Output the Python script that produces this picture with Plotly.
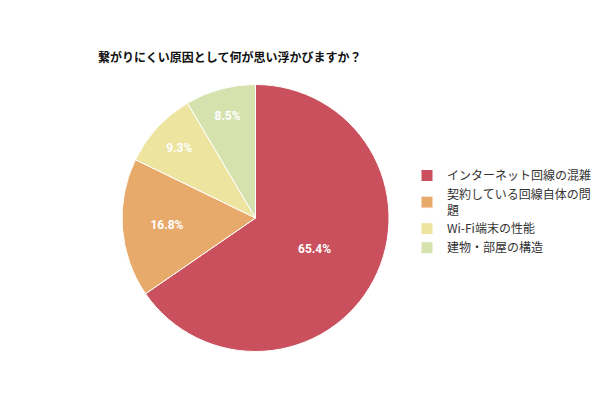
import plotly.graph_objects as go

labels = ["インターネット回線の混雑", "契約している回線自体の問<br>題", "Wi-Fi端末の性能", "建物・部屋の構造"]
values = [65.4, 16.8, 9.3, 8.5]
colors = ["#c9505c", "#e8aa6a", "#ede4a0", "#d5e2ad"]

fig = go.Figure(go.Pie(
    labels=labels, values=values, sort=False, direction="clockwise", rotation=0,
    marker=dict(colors=colors, line=dict(color="white", width=1)),
    texttemplate="<b>%{value}%</b>", textposition="inside",
    textfont=dict(color="white", size=12, family="Roboto"),
    insidetextorientation="horizontal",
    domain=dict(x=[0.19, 0.635], y=[0.14, 0.81]),
))
fig.update_layout(
    width=600, height=400, margin=dict(l=0, r=0, t=0, b=0),
    paper_bgcolor="white", font=dict(family="Noto Sans CJK JP", color="#333"),
    title=dict(text="<b>繋がりにくい原因として何が思い浮かびますか？</b>", x=0.15, y=0.875,
               xanchor="left", yanchor="middle", font=dict(size=12, color="#111")),
    legend=dict(x=0.665, y=0.49, xanchor="left", yanchor="middle", font=dict(size=12, color="#333"),
                itemwidth=30),
)
fig.write_html("out.html")
